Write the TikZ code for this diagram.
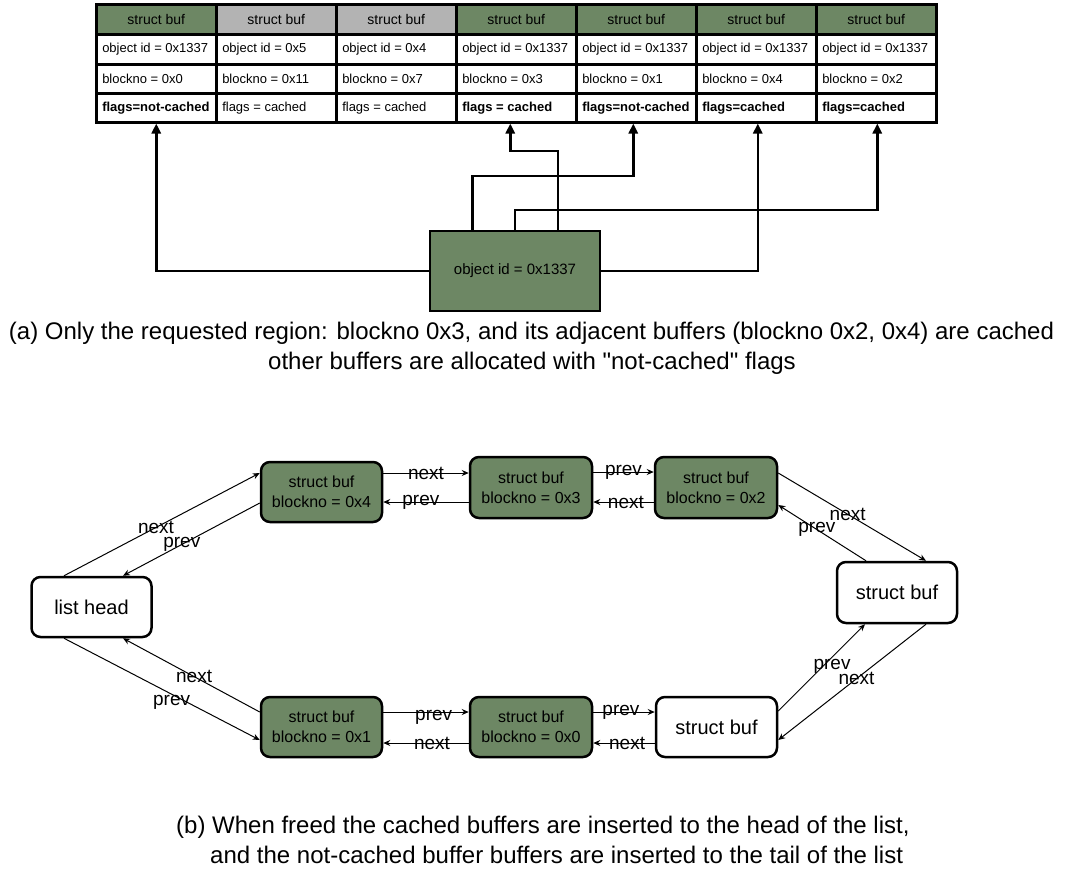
\documentclass[tikz,border=0pt]{standalone}
\usepackage{fontspec}
\setmainfont{Liberation Sans}[Ligatures=TeXOff]
\usetikzlibrary{arrows.meta,calc}
\definecolor{bufgreen}{HTML}{6D8764}
\definecolor{bufgray}{HTML}{B3B3B3}
\newcommand{\celltxt}[1]{\makebox[108pt][l]{#1}}
\begin{document}
\begin{tikzpicture}[x=1pt,y=-1pt,
  hdr/.style={draw=black,line width=2.5pt,minimum width=120pt,minimum height=30pt,inner sep=0pt,anchor=north west,font=\fontsize{14}{16}\selectfont},
  cell/.style={draw=black,line width=2.5pt,fill=white,minimum width=120pt,inner xsep=6pt,inner ysep=0pt,anchor=north west,font=\fontsize{13}{15}\selectfont},
  gbox/.style={draw=black,line width=2.5pt,rounded corners=9pt,fill=bufgreen,minimum width=121pt,minimum height=60pt,align=center,inner sep=0pt,font=\fontsize{16}{20}\selectfont},
  wbox/.style={gbox,fill=white,font=\fontsize{20}{24}\selectfont},
  lnk/.style={line width=1pt,-{Stealth[length=7pt,width=6pt]}},
  lbl/.style={font=\fontsize{19}{22}\selectfont,inner sep=0pt},
  thk/.style={line width=2.5pt,-{Triangle[length=10pt,width=9pt]}},
  captxt/.style={font=\fontsize{24}{30}\selectfont,inner sep=0pt}
]
\path[fill=white,use as bounding box] (0,0) rectangle (1070,871);

% ---- top table ----
\foreach \i/\hc/\oid/\bn/\fl in {
  1/bufgreen/0x1337/0x0/{\textbf{flags=not-cached}},
  2/bufgray/0x5/0x11/{flags = cached},
  3/bufgray/0x4/0x7/{flags = cached},
  4/bufgreen/0x1337/0x3/{\textbf{flags = cached}},
  5/bufgreen/0x1337/0x1/{\textbf{flags=not-cached}},
  6/bufgreen/0x1337/0x4/{\textbf{flags=cached}},
  7/bufgreen/0x1337/0x2/{\textbf{flags=cached}}}{
  \node[hdr,fill=\hc] (h\i) at ({95+120*(\i-1)},3) {struct buf};
  \node[cell,minimum height=30pt] (o\i) at ({95+120*(\i-1)},33) {\celltxt{object id = \oid}};
  \node[cell,minimum height=29pt] (n\i) at ({95+120*(\i-1)},63) {\celltxt{blockno = \bn}};
  \node[cell,minimum height=29pt] (f\i) at ({95+120*(\i-1)},92) {\celltxt{\fl}};
}

% ---- central object box ----
\node[draw=black,line width=2.5pt,fill=bufgreen,minimum width=170pt,minimum height=80pt,inner sep=0pt,font=\fontsize{15}{18}\selectfont] (ob) at (515,271) {object id = 0x1337};

\draw[thk] (ob.west) -| (f1.south);
\draw[thk] ($(ob.north)+(43,0)$) -- ++(0,-79) -| ($(f4.south)+(-6,0)$);
\draw[thk] ($(ob.north)+(-42.5,0)$) -- ++(0,-54) -| ($(f5.south)+(-3,0)$);
\draw[thk] (ob.east) -| ($(f6.south)+(1.5,0)$);
\draw[thk] (ob.north) -- ++(0,-20) -| ($(f7.south)+(1,0)$);

\node[captxt,anchor=base] (capa1) at (531.5,339) {(a) Only the requested region: blockno 0x3, and its adjacent buffers (blockno 0x2, 0x4) are cached};
\node[captxt,anchor=base] (capa2) at (532,369) {other buffers are allocated with "not-cached" flags};

% ---- bottom list ----
\node[wbox,minimum width=120pt] (lh) at (91.5,607) {list head};
\node[gbox] (b4) at (321.5,492) {struct buf\\blockno = 0x4};
\node[gbox,minimum width=122pt,minimum height=61pt] (b3) at (531,487.5) {struct buf\\blockno = 0x3};
\node[gbox,minimum width=122pt,minimum height=61pt] (b2) at (716,487.5) {struct buf\\blockno = 0x2};
\node[wbox,minimum width=120pt,minimum height=61pt] (rb) at (897,592.5) {struct buf};
\node[gbox] (b1) at (321.5,727) {struct buf\\blockno = 0x1};
\node[gbox,minimum width=122pt] (b0) at (531,727) {struct buf\\blockno = 0x0};
\node[wbox] (bb) at (716.5,727) {struct buf};

\draw[lnk] ($(lh.north)+(-27.5,0)$) -- node[lbl,pos=.47] (l1) {next} ($(b4.west)+(0,-19)$);
\draw[lnk] ($(b4.west)+(0,11)$) -- node[lbl,pos=.57] (l2) {prev} ($(lh.north)+(31.5,0)$);
\draw[lnk] ($(b1.west)+(0,-15)$) -- node[lbl,pos=.48] (l3) {next} ($(lh.south)+(31.5,0)$);
\draw[lnk] ($(lh.south)+(-27.5,0)$) -- node[lbl,pos=.55,yshift=-8pt] (l4) {prev} ($(b1.west)+(0,13)$);

\draw[lnk] ($(b4.east)+(0,-19)$) -- node[lbl,pos=.5] (l5) {next} ($(b3.west)+(0,-14.5)$);
\draw[lnk] ($(b3.west)+(0,14.5)$) -- node[lbl,pos=.56] (l6) {prev} ($(b4.east)+(0,10)$);
\draw[lnk] ($(b3.east)+(0,-15.5)$) -- node[lbl,pos=.5] (l7) {prev} ($(b2.west)+(0,-15.5)$);
\draw[lnk] ($(b2.west)+(0,14.5)$) -- node[lbl,pos=.46] (l8) {next} ($(b3.east)+(0,14.5)$);

\draw[lnk] ($(b2.east)+(0,-14.5)$) -- node[lbl,pos=.47] (l9) {next} ($(rb.north)+(29,0)$);
\draw[lnk] ($(rb.north)+(-31,0)$) -- node[lbl,pos=.56] (l10) {prev} ($(b2.east)+(0,17.5)$);
\draw[lnk] ($(bb.east)+(0,-16)$) -- node[lbl,pos=.62,yshift=-9pt] (l11) {prev} ($(rb.south)+(-32,0)$);
\draw[lnk] ($(rb.south)+(29,0)$) -- node[lbl,pos=.47] (l12) {next} ($(bb.east)+(0,13)$);

\draw[lnk] ($(b1.east)+(0,-15)$) -- node[lbl,pos=.59,yshift=-5pt] (l13) {prev} ($(b0.west)+(0,-15)$);
\draw[lnk] ($(b0.west)+(0,16)$) -- node[lbl,pos=.43] (l14) {next} ($(b1.east)+(0,16)$);
\draw[lnk] ($(b0.east)+(0,-15)$) -- node[lbl,pos=.45] (l15) {prev} ($(bb.west)+(0,-15)$);
\draw[lnk] ($(bb.west)+(0,16)$) -- node[lbl,pos=.45] (l16) {next} ($(b0.east)+(0,16)$);

\node[captxt,anchor=base west] (capb1) at (176,833) {(b) When freed the cached buffers are inserted to the head of the list,};
\node[captxt,anchor=base west] (capb2) at (210,863) {and the not-cached buffer buffers are inserted to the tail of the list};
\end{tikzpicture}
\end{document}
